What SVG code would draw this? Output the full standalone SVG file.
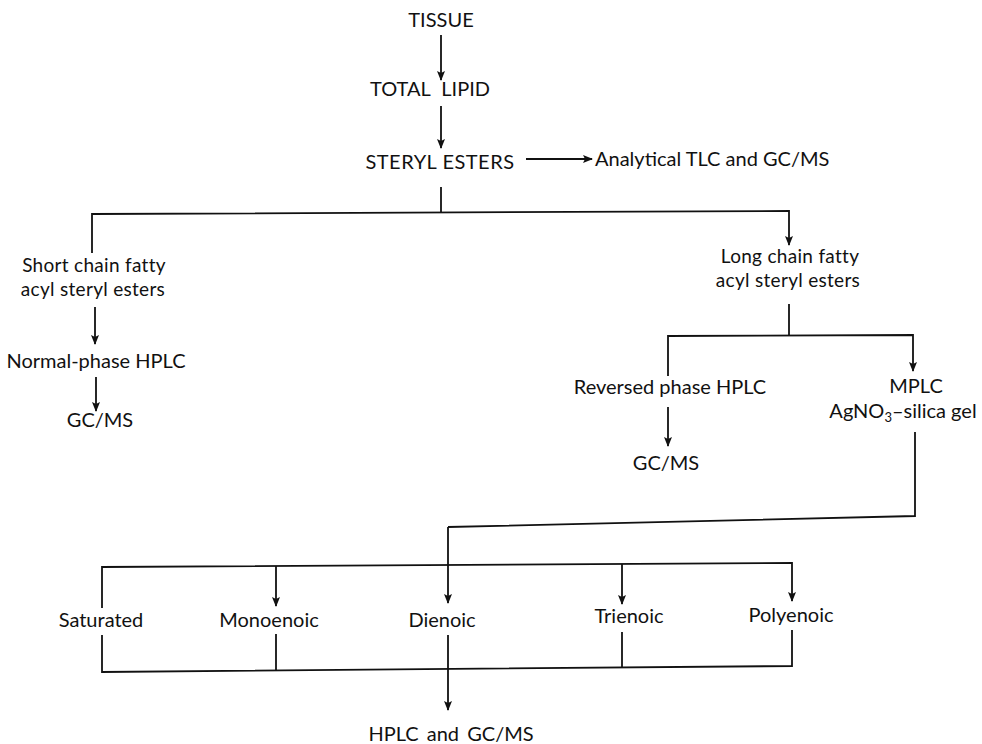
<svg xmlns="http://www.w3.org/2000/svg" width="982" height="744" viewBox="0 0 982 744">
<defs>
<marker id="ah" viewBox="0 0 10 10" refX="9" refY="5" markerWidth="10" markerHeight="10" markerUnits="userSpaceOnUse" orient="auto">
<path d="M0,1 L10,5 L0,9 L2,5 Z" fill="#111"/>
</marker>
<style>
text{font-family:Lato,"Open Sans","Liberation Sans",sans-serif;font-size:20px;fill:#111;text-anchor:middle}
.l{text-anchor:start}
.s{font-size:19px}
.c line,.c polyline{stroke:#111;stroke-width:1.8;fill:none}
.a{marker-end:url(#ah)}
</style>
</defs>
<rect width="982" height="744" fill="#fff"/>
<g id="tissue"><text x="441" y="27">TISSUE</text></g>
<g id="total-lipid"><text x="430" y="96" word-spacing="6">TOTAL LIPID</text></g>
<g id="steryl-esters"><text x="440" y="169" letter-spacing="0.5">STERYL ESTERS</text></g>
<g id="analytical"><text class="l" x="595" y="166">Analytical TLC and GC/MS</text></g>
<g id="short-chain"><text class="s" x="94" y="272" letter-spacing="0.3">Short chain fatty</text><text class="s" x="93" y="296" letter-spacing="0.3">acyl steryl esters</text></g>
<g id="normal-phase"><text x="96" y="368">Normal-phase HPLC</text></g>
<g id="gcms-left"><text x="100" y="427">GC/MS</text></g>
<g id="long-chain"><text class="s" x="790" y="263" letter-spacing="0.3">Long chain fatty</text><text class="s" x="788" y="287" letter-spacing="0.3">acyl steryl esters</text></g>
<g id="reversed-phase"><text x="670" y="394">Reversed phase HPLC</text></g>
<g id="gcms-right"><text x="666" y="470">GC/MS</text></g>
<g id="mplc"><text x="916" y="393">MPLC</text><text x="903" y="418">AgNO<tspan font-size="13" dy="4">3</tspan><tspan dy="-4">–silica gel</tspan></text></g>
<g id="saturated"><text x="101" y="627">Saturated</text></g>
<g id="monoenoic"><text x="269" y="627">Monoenoic</text></g>
<g id="dienoic"><text x="442" y="627">Dienoic</text></g>
<g id="trienoic"><text x="629" y="623">Trienoic</text></g>
<g id="polyenoic"><text x="791" y="622">Polyenoic</text></g>
<g id="hplc-gcms"><text x="451" y="741" word-spacing="3">HPLC and GC/MS</text></g>
<g id="connectors" class="c">
<line class="a" x1="441" y1="35" x2="441" y2="80"/>
<line class="a" x1="441" y1="106" x2="441" y2="148"/>
<line class="a" x1="526" y1="159" x2="592" y2="159"/>
<line x1="441" y1="187" x2="441" y2="212"/>
<polyline class="a" points="92,253 92,214 789,211 789,245"/>
<line class="a" x1="95" y1="307" x2="95" y2="344"/>
<line class="a" x1="96" y1="377" x2="96" y2="411"/>
<line x1="789" y1="304" x2="789" y2="335"/>
<polyline class="a" points="668,376 668,336 913,335 913,371"/>
<line class="a" x1="668" y1="407" x2="668" y2="446"/>
<polyline points="915,432 915,516 448,527"/>
<line class="a" x1="448" y1="527" x2="448" y2="603"/>
<polyline class="a" points="102,608 102,567 792,563 792,601"/>
<line class="a" x1="276" y1="566" x2="276" y2="606"/>
<line class="a" x1="622" y1="564" x2="622" y2="604"/>
<polyline points="102,635 102,672 792,666 792,630"/>
<line x1="276" y1="634" x2="276" y2="671"/>
<line x1="622" y1="632" x2="622" y2="667"/>
<line class="a" x1="448" y1="635" x2="448" y2="710"/>
</g>
</svg>
